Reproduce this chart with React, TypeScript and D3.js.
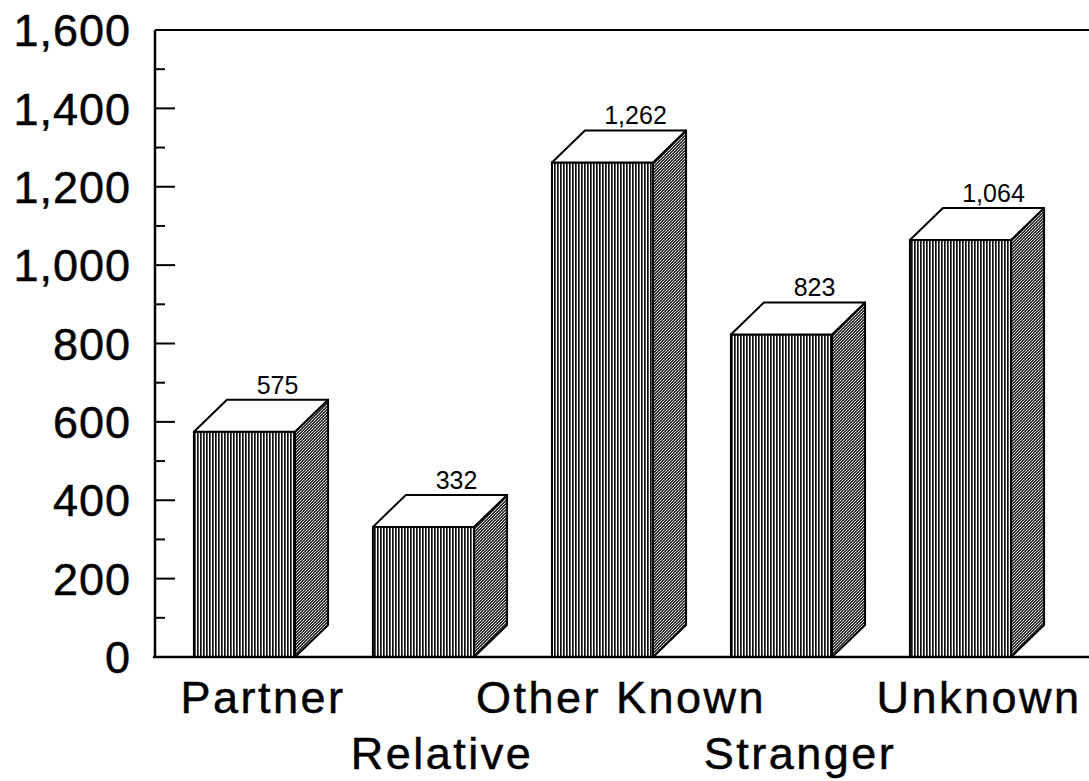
import { useMemo } from 'react';
import * as d3 from 'd3';

const WIDTH = 1089;
const HEIGHT = 781;
const MARGIN = { top: 30, right: 39, bottom: 124, left: 155 };
const DEPTH_X = 33;
const DEPTH_Y = 32;
const FONT = '"Liberation Sans", Arial, sans-serif';

const categories = ['Partner', 'Relative', 'Other Known', 'Stranger', 'Unknown'];
const values = [575, 332, 1262, 823, 1064];
const labelRows = [0, 1, 0, 1, 0];
const yTicks = [0, 200, 400, 600, 800, 1000, 1200, 1400, 1600];
const minorTicks = [100, 300, 500, 700, 900, 1100, 1300, 1500];

export default function App() {
    const boundsWidth = WIDTH - MARGIN.left - MARGIN.right;
    const boundsHeight = HEIGHT - MARGIN.top - MARGIN.bottom;

    const xScale = useMemo(() => {
        return d3.scaleBand().domain(categories).range([0, boundsWidth]).paddingInner(0.435).paddingOuter(0.2175);
    }, [boundsWidth]);

    const yScale = useMemo(() => {
        return d3.scaleLinear().domain([0, 1600]).range([boundsHeight, 0]);
    }, [boundsHeight]);

    const fmt = d3.format(',');

    const bars = categories.map((c, i) => {
        const x0 = xScale(c)!;
        const x1 = x0 + xScale.bandwidth();
        const yTop = yScale(values[i]);
        const y0 = yScale(0);
        const side = `M${x1},${yTop} L${x1 + DEPTH_X},${yTop - DEPTH_Y} L${x1 + DEPTH_X},${y0 - DEPTH_Y} L${x1},${y0} Z`;
        const top = `M${x0},${yTop} L${x0 + DEPTH_X},${yTop - DEPTH_Y} L${x1 + DEPTH_X},${yTop - DEPTH_Y} L${x1},${yTop} Z`;
        return (
            <g key={c}>
                <rect x={x0} y={yTop} width={x1 - x0} height={y0 - yTop} fill="url(#stripes)" stroke="#000" strokeWidth={2} />
                <path d={side} fill="url(#speckle)" stroke="#000" strokeWidth={2} strokeLinejoin="round" />
                <path d={top} fill="#fff" stroke="#000" strokeWidth={2} strokeLinejoin="round" />
                <text
                    x={(x0 + x1) / 2 + DEPTH_X}
                    y={yTop - DEPTH_Y - 6}
                    textAnchor="middle"
                    fontSize={25}
                    fontFamily={FONT}
                    fill="#000"
                >
                    {fmt(values[i])}
                </text>
                {/* category labels sit under the whole box (front + depth), alternating rows */}
                <text
                    x={(x0 + x1) / 2 + DEPTH_X / 2 + 2}
                    y={boundsHeight + (labelRows[i] === 0 ? 56 : 112)}
                    textAnchor="middle"
                    fontSize={45}
                    fontFamily={FONT}
                    letterSpacing={2.5}
                    fill="#000"
                    stroke="#000"
                    strokeWidth={0.5}
                >
                    {c}
                </text>
            </g>
        );
    });

    return (
        <svg width={WIDTH} height={HEIGHT} style={{ position: 'absolute', left: 0, top: 0, background: '#fff' }}>
            <defs>
                <pattern id="stripes" width={3} height={4} patternUnits="userSpaceOnUse">
                    <rect width={3} height={4} fill="#fff" />
                    <rect width={1.7} height={4} fill="#111" />
                </pattern>
                <pattern id="speckle" width={3} height={3} patternUnits="userSpaceOnUse">
                    <rect width={3} height={3} fill="#333" />
                    <rect x={0} y={0} width={1} height={1} fill="#ddd" />
                    <rect x={2} y={1} width={1} height={1} fill="#bbb" />
                    <rect x={1} y={2} width={1} height={1} fill="#eee" />
                </pattern>
            </defs>
            <g transform={`translate(${MARGIN.left},${MARGIN.top})`}>
                {bars}
                {/* frame */}
                <line x1={0} x2={WIDTH - MARGIN.left} y1={0} y2={0} stroke="#000" strokeWidth={2} />
                <line x1={0} x2={0} y1={0} y2={boundsHeight} stroke="#000" strokeWidth={2.5} />
                <line x1={-2} x2={WIDTH - MARGIN.left} y1={boundsHeight} y2={boundsHeight} stroke="#000" strokeWidth={2.5} />
                {yTicks.map((t) => (
                    <g key={t}>
                        <line x1={0} x2={20} y1={yScale(t)} y2={yScale(t)} stroke="#000" strokeWidth={2} />
                        <text
                            x={-24}
                            y={yScale(t)}
                            dy="0.36em"
                            textAnchor="end"
                            fontSize={45}
                            fontFamily={FONT}
                            letterSpacing={1}
                            fill="#000"
                            stroke="#000"
                            strokeWidth={0.5}
                        >
                            {fmt(t)}
                        </text>
                    </g>
                ))}
                {minorTicks.map((t) => (
                    <line key={t} x1={0} x2={10} y1={yScale(t)} y2={yScale(t)} stroke="#000" strokeWidth={2} />
                ))}
            </g>
        </svg>
    );
}
